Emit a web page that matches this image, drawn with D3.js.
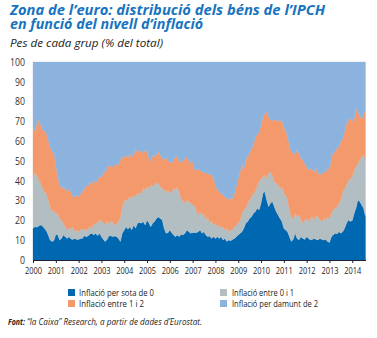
<!DOCTYPE html>
<html><head><meta charset="utf-8">
<script src="https://cdn.jsdelivr.net/npm/d3@7"></script>
<style>body{margin:0;background:#fff} svg{display:block}</style>
</head><body><svg id="c" width="377" height="338"></svg>
<script>
const startYear = 2000;
const belowZero = [16,16.8,16.5,17.2,17.7,17.2,16,14.8,12.6,10.1,9.3,9.8,13,12.6,10.1,10.9,12.6,11.8,10.9,11.8,
10.6,10.4,10.9,10.4,10.4,10.9,10.9,12.2,11.8,12.1,13.1,13.5,12.6,13.5,12.2,13.5,11.8,10.4,9.3,10.4,
12.1,12.2,11.8,12.1,11.8,10.9,9.3,13.5,15.1,16.8,15.5,16.8,15.2,17.7,16,18.5,19,18.5,19.4,17.7,
20.2,18.5,16.8,18.5,19.4,21,21.7,21,20.2,16,13.5,13.7,15.2,13.8,12.6,11.8,12.6,11.8,13,12.6,
13.5,15.2,14.3,13.5,13.8,13.9,13.8,14.3,15.2,13.5,14.3,12.6,11.8,12.1,10.9,11.8,10.9,11.8,10.9,11.8,
10.1,10.9,9.3,10.1,9.7,10.4,10.9,11.8,12.6,13.5,14.3,16,18.5,19.4,21,21.9,23.6,24.4,26.1,25.3,
28.6,33.7,34.5,30.3,26.9,28.6,29.5,26.9,24.4,22.7,21,19.4,16,15,14.3,11.8,9.3,10.5,13.5,10.9,
10.1,11.8,10.9,10.4,11.8,10.9,10.1,10.4,10.9,10.4,10.1,10.9,10.4,10.1,10.4,9.3,8.8,11.8,12.6,13.5,
13.1,14.3,13.5,14.3,16,18.5,20.2,19.4,19.9,23.6,26.1,30.3,29.5,27.8,26.1,21.9];
const between0and1 = [26,27,26.5,23.2,21,19.4,18.5,18.9,17.7,16.9,15.1,15.5,10.2,11,10.9,9.3,5.9,5,4.6,4.2,
5,6.4,3.4,4.8,3.9,4.3,4.6,3.4,3,3.9,3.7,2.5,5.9,4.2,7.6,5.9,8.7,8.1,8.4,9,
6.4,7.3,7.6,5.6,6.4,8.5,12.6,13.4,14.8,13.3,15.1,15.2,15.9,15.1,16,15.2,14.6,15.2,16.8,17.7,
16.8,17.7,21.1,18.9,18.5,18,17.1,16,16,19.4,21,21.6,18.5,20.7,23.6,23.6,24.4,22.7,18.1,16.9,
15.1,15.1,15.2,15.1,14,13.8,11.5,8.4,9.2,9.2,9.3,7.6,10.1,6.4,9.3,5.9,7.6,5,6.8,4.2,
6.7,4.3,6.7,4.2,5.5,5,5.9,5.9,5.9,6.7,9.3,9.3,7.6,9.2,9.3,10.1,10.1,10.1,11.8,14.3,
12.4,8.3,8.4,10.9,16.9,16,13.4,12.7,14.3,15.2,15.2,17.6,17.7,17.8,16,13.5,12.6,10.1,10.1,11,
12.6,8.7,7.6,9.8,9.2,8.5,10.9,11.5,9.3,12.3,11.8,9.3,9,10.9,9.8,12.6,12.2,11.8,12.7,12.6,
13.8,14.3,16.8,20.2,20.2,19.4,20.2,21.8,22.2,21.9,21,18.5,21,24.4,26.9,28.9];
const between1and2 = [25.3,21.2,26,30.3,29.3,28.9,30.8,30.3,30.3,30,30.3,28.7,24.8,18.4,16.9,15.8,18.9,18.9,19,20,
18.4,15.5,17.3,17.6,17.7,18.1,19,20.2,23.1,21,22.8,21.9,21.9,21,20.6,23.6,20.5,26.1,26.1,26.9,
29.5,27.7,27.6,30.3,30.3,28.6,28.6,25.3,21.9,22.9,20.7,21.9,21.1,20.2,23.9,21,21.4,21.5,17.7,20.2,
17.7,15.1,11.8,15.6,14.3,14,15.9,16,15.1,15.1,17.7,14.7,16,14.3,14.3,16.8,15.5,15.2,18.5,20.2,
22.7,21.9,21,20.2,21.9,17.8,20.2,23.1,21.1,21.9,20.2,24.4,21,25.3,22.7,23.5,19.4,18.6,16.8,17.7,
16,16.8,15.1,16.5,15.8,15.7,16.9,19.3,22.5,24.4,25.2,20.2,24.4,23.6,23.6,24.4,24.3,27.8,25.2,25.2,
27,30.4,31.1,33.7,28.6,26.1,27.5,31.4,31.7,32.8,33.7,33.7,33.6,32.2,32,32.7,32.8,33.3,29.4,33.7,
31.2,30.8,32,28.6,26.1,26.1,25.3,23.6,24.4,23.6,21.9,22.7,24.4,23.6,23.6,25.2,24.5,28.6,28.6,28.6,
29.5,28.6,29.5,26.9,28.6,31.1,30.3,30.3,27.8,26,29.5,25.3,22.7,18.5,21.1,25];
const above2 = [32.7,35,31,29.3,32,34.5,34.7,36,39.4,43,45.3,46,52,58,62.1,64,62.6,64.3,65.5,64,
66,67.7,68.4,67.2,68,66.7,65.5,64.2,62.1,63,60.4,62.1,59.6,61.3,59.6,57,59,55.4,56.2,53.7,
52,52.8,53,52,51.5,52,49.5,47.8,48.2,47,48.7,46.1,47.8,47,44.1,45.3,45,44.8,46.1,44.4,
45.3,48.7,50.3,47,47.8,47,45.3,47,48.7,49.5,47.8,50,50.3,51.2,49.5,47.8,47.5,50.3,50.4,50.3,
48.7,47.8,49.5,51.2,50.3,54.5,54.5,54.2,54.5,55.4,56.2,55.4,57.1,56.2,57.1,58.8,62.1,64.6,65.5,66.3,
67.2,68,68.9,69.2,69,68.9,66.3,63,59,55.4,51.2,54.5,49.5,47.8,46.1,43.6,42,37.7,36.9,35.2,
32,27.6,26,25.1,27.6,29.3,29.6,29,29.6,29.3,30.1,29.3,32.7,35,37.7,42,45.3,46.1,47,44.4,
46.1,48.7,49.5,51.2,52.9,54.5,53.7,54.5,55.4,53.7,56.2,57.1,56.2,55.4,56.2,52.9,54.5,47.8,46.1,45.3,
43.6,42.8,40.2,38.6,35.2,31,29.3,28.5,30.1,28.5,23.4,25.9,26.8,29.3,25.9,24.2];
const seriesNames = ["Inflació per sota de 0","Inflació entre 0 i 1","Inflació entre 1 i 2","Inflació per damunt de 2"];
const yearTicks = [2000,2001,2002,2003,2004,2005,2006,2007,2008,2009,2010,2011,2012,2013,2014];
const yTicks = [0,10,20,30,40,50,60,70,80,90,100];
const colors = ["#0067b1","#b3bec3","#f3996b","#8cb2de"];

const FONT = "'Open Sans', 'Noto Sans', sans-serif";
const svg = d3.select("#c");
const keys = ["s0","s1","s2","s3"];
const table = belowZero.map((v,i)=>({date:new Date(startYear, i, 1), s0:v, s1:between0and1[i], s2:between1and2[i], s3:above2[i]}));
const lastDate = table[table.length-1].date;

const x = d3.scaleTime().domain([new Date(startYear,0,1), lastDate]).range([33, 365.5]);
const y = d3.scaleLinear().domain([0,100]).range([260, 62]);

const stacked = d3.stack().keys(keys)(table);
const area = d3.area().x(d=>x(d.data.date)).y0(d=>y(d[0])).y1(d=>y(d[1]));

svg.append("g").selectAll("path").data(stacked).join("path")
  .attr("d", area).attr("fill",(d,i)=>colors[i]).attr("stroke",(d,i)=>colors[i]).attr("stroke-width",0.3);

// x axis
const xa = svg.append("g").attr("transform","translate(0,260)")
  .call(d3.axisBottom(x).tickValues(yearTicks.map(yy=>new Date(yy,0,1))).tickFormat(d3.timeFormat("%Y")).tickSize(3).tickSizeOuter(0));
xa.select(".domain").attr("stroke","#1b2233").attr("stroke-width",1.2);
xa.selectAll(".tick line").attr("stroke","#1b2233");
xa.selectAll("text").attr("font-family",FONT).attr("font-size",9.5).attr("fill","#222")
  .attr("y",7.5).attr("textLength",17).attr("lengthAdjust","spacingAndGlyphs");

// y axis labels
const ya = svg.append("g").attr("transform","translate(25,0)")
  .call(d3.axisLeft(y).tickValues(yTicks).tickSize(0).tickPadding(0));
ya.select(".domain").remove();
ya.selectAll("text").attr("font-family",FONT).attr("font-size",10).attr("fill","#333")
  .attr("textLength",d=>String(d).length*5).attr("lengthAdjust","spacingAndGlyphs");

// titles
function txt(s, xx, yy, size, opts){
  const t = svg.append("text").attr("x",xx).attr("y",yy).attr("font-family",FONT).attr("font-size",size)
    .attr("fill",opts.fill||"#222").attr("font-style",opts.italic?"italic":"normal").attr("font-weight",opts.bold?"bold":"normal").text(s);
  if(opts.w) t.attr("textLength",opts.w).attr("lengthAdjust","spacingAndGlyphs");
  return t;
}
txt("Zona de l’euro: distribució dels béns de l’IPCH", 10, 14.5, 14, {fill:"#1874bf", italic:true, bold:true, w:315});
txt("en funció del nivell d’inflació", 10, 28.8, 14, {fill:"#1874bf", italic:true, bold:true, w:193});
txt("Pes de cada grup (% del total)", 10, 46.5, 10.5, {fill:"#222", italic:true, w:153});

// legend
const leg = [
  {i:0, sx:68, tx:79, yy:289, w:75},
  {i:2, sx:68, tx:79, yy:300, w:65},
  {i:1, sx:220, tx:232, yy:289, w:62},
  {i:3, sx:220, tx:232, yy:300, w:86}
];
leg.forEach(l=>{
  svg.append("rect").attr("x",l.sx).attr("y",l.yy).attr("width",7).attr("height",7).attr("fill",colors[l.i]);
  txt(seriesNames[l.i], l.tx, l.yy+6.5, 8.5, {fill:"#222", w:l.w});
});

// source
txt("Font:", 8, 324.5, 8.5, {fill:"#222", italic:true, bold:true, w:17});
txt("“la Caixa” Research, a partir de dades d’Eurostat.", 27, 324.5, 8.5, {fill:"#222", italic:true, w:175});
</script></body></html>
